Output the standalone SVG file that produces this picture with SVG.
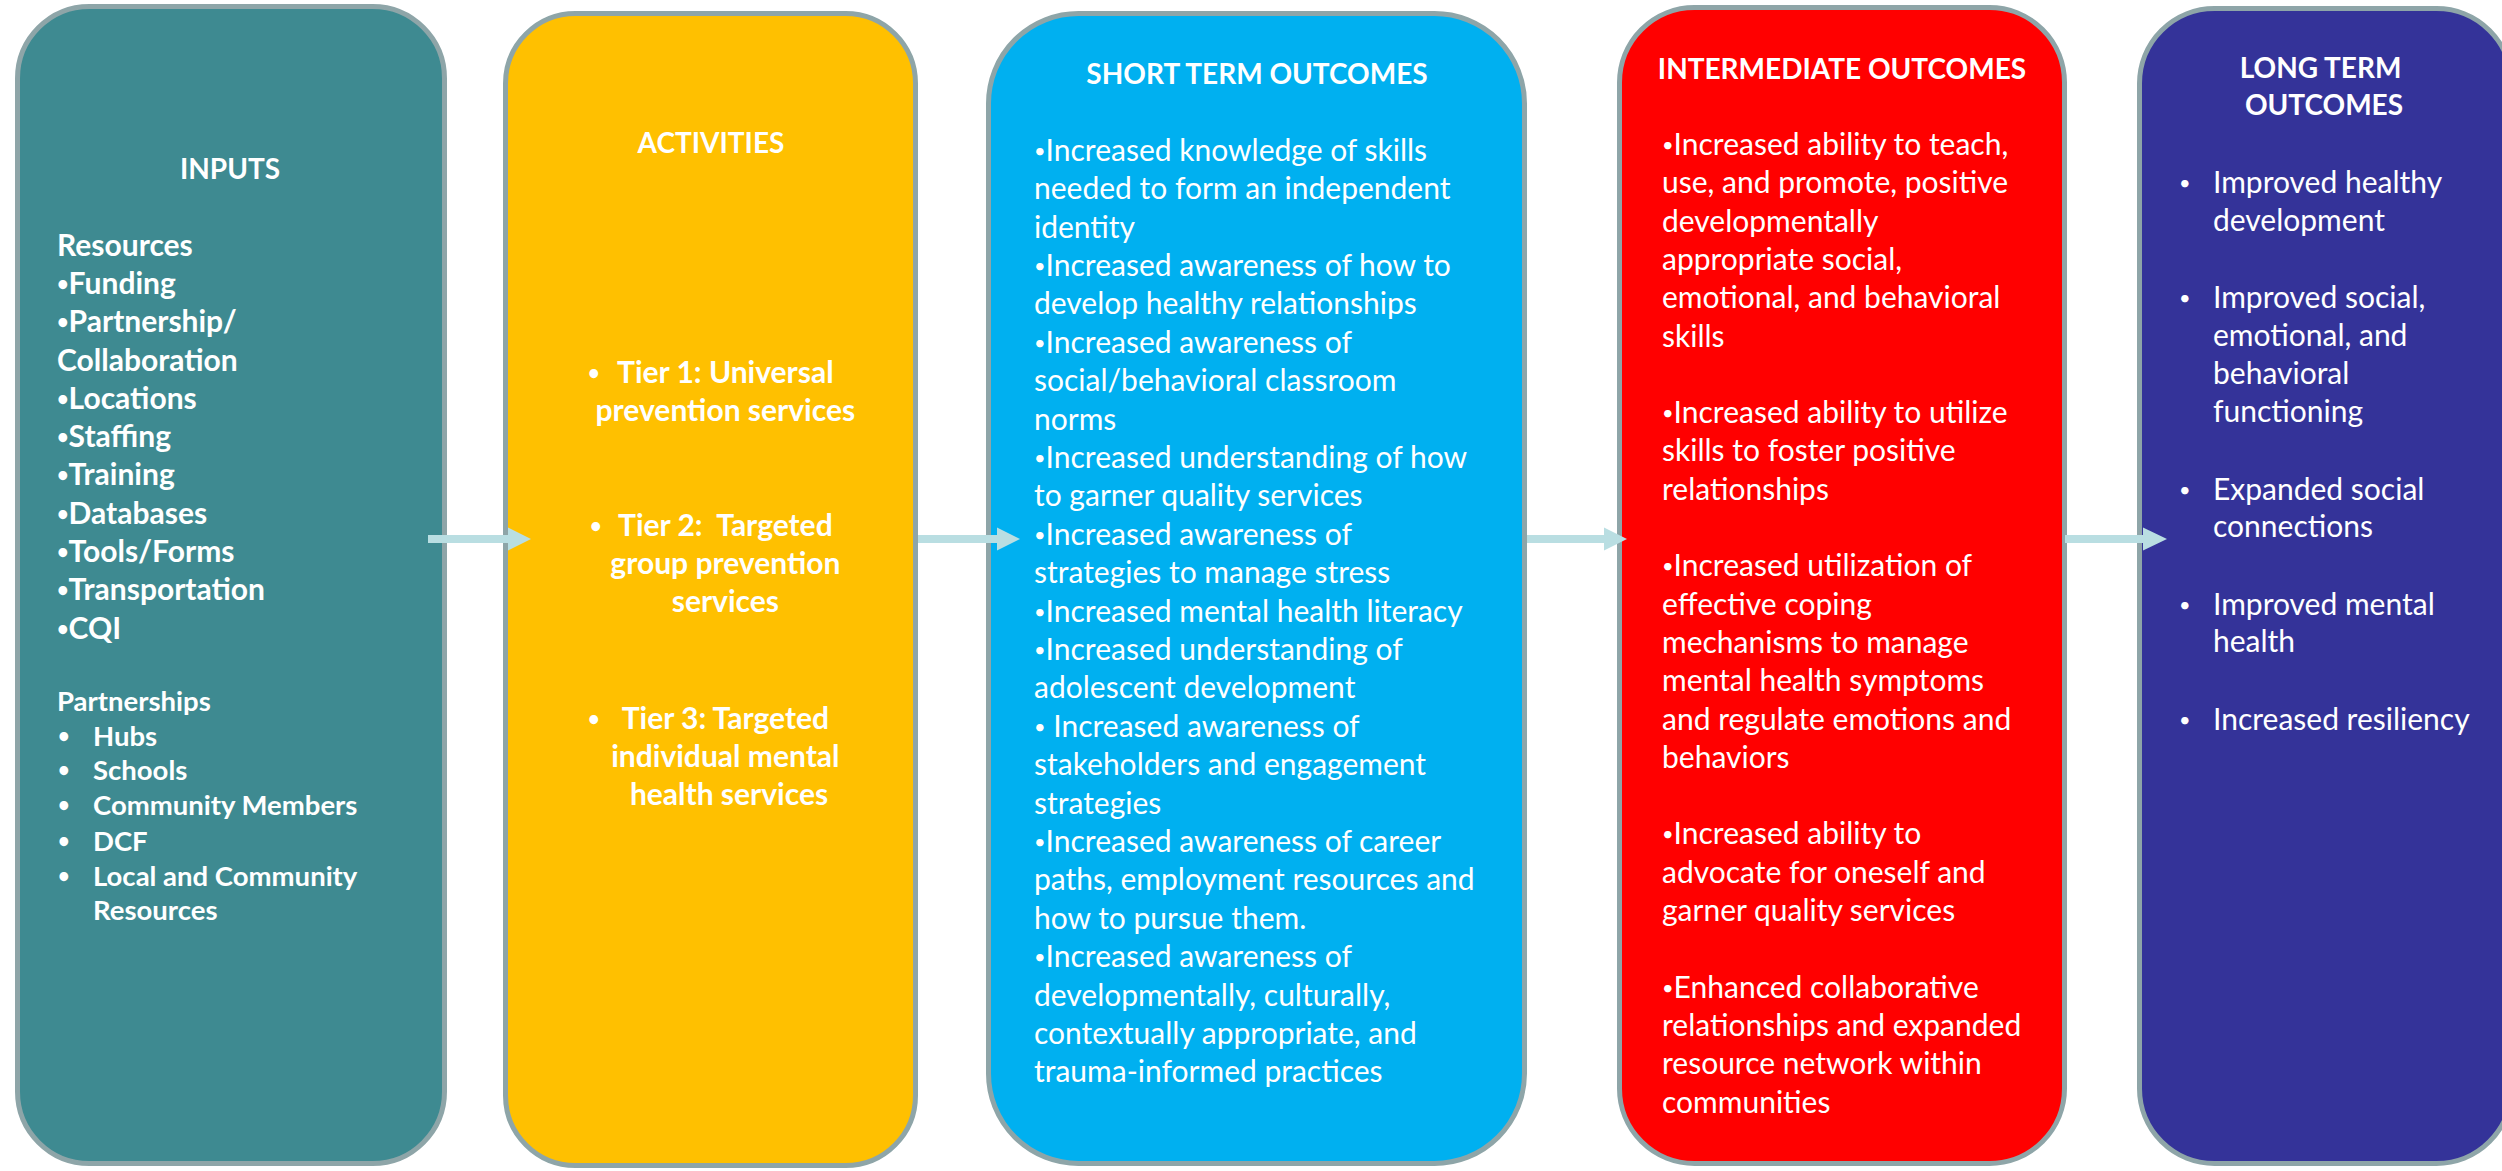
<svg xmlns="http://www.w3.org/2000/svg" width="2502" height="1171" viewBox="0 0 2502 1171">
  <style>
    .box { stroke: #8EA5A8; stroke-width: 5; }
    .t { font-family: Lato, "Open Sans", "Liberation Sans", sans-serif; fill: #FFFFFF; font-size: 30px; }
    .h { font-size: 28px; font-weight: 700; }
    .b { font-weight: 700; }
    .sm { font-size: 27.5px; }
    .mid { text-anchor: middle; }
    .dot { font-size: 20px; baseline-shift: 3px; }
    .arrow { fill: #B9DEE2; }
  </style>

  <rect width="2502" height="1171" fill="#FFFFFF"/>

  <!-- Inputs -->
  <g id="inputs">
    <rect class="box" x="17.5" y="6.5" width="427" height="1157" rx="72" ry="72" fill="#3E8A91"/>
    <text class="t h mid" x="230" y="179">INPUTS</text>
    <text class="t b">
      <tspan x="57" y="255.6">Resources</tspan>
      <tspan x="57" y="293.9"><tspan class="dot">•</tspan>Funding</tspan>
      <tspan x="57" y="332.2"><tspan class="dot">•</tspan>Partnership/</tspan>
      <tspan x="57" y="370.5">Collaboration</tspan>
      <tspan x="57" y="408.8"><tspan class="dot">•</tspan>Locations</tspan>
      <tspan x="57" y="447.1"><tspan class="dot">•</tspan>Staffing</tspan>
      <tspan x="57" y="485.4"><tspan class="dot">•</tspan>Training</tspan>
      <tspan x="57" y="523.7"><tspan class="dot">•</tspan>Databases</tspan>
      <tspan x="57" y="562"><tspan class="dot">•</tspan>Tools/Forms</tspan>
      <tspan x="57" y="600.3"><tspan class="dot">•</tspan>Transportation</tspan>
      <tspan x="57" y="638.6"><tspan class="dot">•</tspan>CQI</tspan>
    </text>
    <text class="t b sm" x="57" y="711">Partnerships</text>
    <text class="t b">
      <tspan class="dot" x="58" y="746">•</tspan>
      <tspan class="dot" x="58" y="780">•</tspan>
      <tspan class="dot" x="58" y="815">•</tspan>
      <tspan class="dot" x="58" y="851">•</tspan>
      <tspan class="dot" x="58" y="886">•</tspan>
    </text>
    <text class="t b sm">
      <tspan x="93" y="746">Hubs</tspan>
      <tspan x="93" y="780">Schools</tspan>
      <tspan x="93" y="815">Community Members</tspan>
      <tspan x="93" y="851">DCF</tspan>
      <tspan x="93" y="886">Local and Community</tspan>
      <tspan x="93" y="920">Resources</tspan>
    </text>
  </g>

  <!-- Activities -->
  <g id="activities">
    <rect class="box" x="505.5" y="13.5" width="410" height="1152" rx="70" ry="70" fill="#FFC000"/>
    <text class="t h mid" x="711" y="153">ACTIVITIES</text>
    <text class="t b">
      <tspan class="dot" x="588" y="383">•</tspan>
      <tspan class="dot" x="590" y="536">•</tspan>
      <tspan class="dot" x="588" y="729">•</tspan>
    </text>
    <text class="t b mid">
      <tspan x="729" y="383">Tier 1: Universal</tspan>
      <tspan x="729" y="421">prevention services</tspan>
      <tspan x="729" y="536">Tier 2:&#160; Targeted</tspan>
      <tspan x="729" y="574">group prevention</tspan>
      <tspan x="729" y="612">services</tspan>
      <tspan x="729" y="729">Tier 3: Targeted</tspan>
      <tspan x="729" y="767">individual mental</tspan>
      <tspan x="729" y="805">health services</tspan>
    </text>
  </g>

  <!-- Short term outcomes -->
  <g id="short-term">
    <rect class="box" x="988.5" y="13.5" width="536" height="1150" rx="90" ry="90" fill="#00B0F0"/>
    <text class="t h mid" x="1257" y="84">SHORT TERM OUTCOMES</text>
    <text class="t">
      <tspan x="1034" y="160.7"><tspan class="dot">•</tspan>Increased knowledge of skills</tspan>
      <tspan x="1034" y="199.1">needed to form an independent</tspan>
      <tspan x="1034" y="237.5">identity</tspan>
      <tspan x="1034" y="275.9"><tspan class="dot">•</tspan>Increased awareness of how to</tspan>
      <tspan x="1034" y="314.3">develop healthy relationships</tspan>
      <tspan x="1034" y="352.7"><tspan class="dot">•</tspan>Increased awareness of</tspan>
      <tspan x="1034" y="391.1">social/behavioral classroom</tspan>
      <tspan x="1034" y="429.5">norms</tspan>
      <tspan x="1034" y="467.9"><tspan class="dot">•</tspan>Increased understanding of how</tspan>
      <tspan x="1034" y="506.3">to garner quality services</tspan>
      <tspan x="1034" y="544.7"><tspan class="dot">•</tspan>Increased awareness of</tspan>
      <tspan x="1034" y="583.1">strategies to manage stress</tspan>
      <tspan x="1034" y="621.5"><tspan class="dot">•</tspan>Increased mental health literacy</tspan>
      <tspan x="1034" y="659.9"><tspan class="dot">•</tspan>Increased understanding of</tspan>
      <tspan x="1034" y="698.3">adolescent development</tspan>
      <tspan x="1034" y="736.7"><tspan class="dot">•</tspan>&#160;Increased awareness of</tspan>
      <tspan x="1034" y="775.1">stakeholders and engagement</tspan>
      <tspan x="1034" y="813.5">strategies</tspan>
      <tspan x="1034" y="851.9"><tspan class="dot">•</tspan>Increased awareness of career</tspan>
      <tspan x="1034" y="890.3">paths, employment resources and</tspan>
      <tspan x="1034" y="928.7">how to pursue them.</tspan>
      <tspan x="1034" y="967.1"><tspan class="dot">•</tspan>Increased awareness of</tspan>
      <tspan x="1034" y="1005.5">developmentally, culturally,</tspan>
      <tspan x="1034" y="1043.9">contextually appropriate, and</tspan>
      <tspan x="1034" y="1082.3">trauma-informed practices</tspan>
    </text>
  </g>

  <!-- Intermediate outcomes -->
  <g id="intermediate">
    <rect class="box" x="1619.5" y="7.5" width="445" height="1156" rx="75" ry="75" fill="#FF0000"/>
    <text class="t h mid" x="1842" y="78.5">INTERMEDIATE OUTCOMES</text>
    <text class="t">
      <tspan x="1662" y="155"><tspan class="dot">•</tspan>Increased ability to teach,</tspan>
      <tspan x="1662" y="193.3">use, and promote, positive</tspan>
      <tspan x="1662" y="231.6">developmentally</tspan>
      <tspan x="1662" y="269.9">appropriate social,</tspan>
      <tspan x="1662" y="308.2">emotional, and behavioral</tspan>
      <tspan x="1662" y="346.5">skills</tspan>
      <tspan x="1662" y="423.1"><tspan class="dot">•</tspan>Increased ability to utilize</tspan>
      <tspan x="1662" y="461.4">skills to foster positive</tspan>
      <tspan x="1662" y="499.7">relationships</tspan>
      <tspan x="1662" y="576.3"><tspan class="dot">•</tspan>Increased utilization of</tspan>
      <tspan x="1662" y="614.6">effective coping</tspan>
      <tspan x="1662" y="652.9">mechanisms to manage</tspan>
      <tspan x="1662" y="691.2">mental health symptoms</tspan>
      <tspan x="1662" y="729.5">and regulate emotions and</tspan>
      <tspan x="1662" y="767.8">behaviors</tspan>
      <tspan x="1662" y="844.4"><tspan class="dot">•</tspan>Increased ability to</tspan>
      <tspan x="1662" y="882.7">advocate for oneself and</tspan>
      <tspan x="1662" y="921">garner quality services</tspan>
      <tspan x="1662" y="997.6"><tspan class="dot">•</tspan>Enhanced collaborative</tspan>
      <tspan x="1662" y="1035.9">relationships and expanded</tspan>
      <tspan x="1662" y="1074.2">resource network within</tspan>
      <tspan x="1662" y="1112.5">communities</tspan>
    </text>
  </g>

  <!-- Long term outcomes -->
  <g id="long-term">
    <rect class="box" x="2139.5" y="8.5" width="372" height="1155" rx="75" ry="75" fill="#343399"/>
    <text class="t h mid">
      <tspan x="2324" y="77.6">LONG TERM</tspan>
      <tspan x="2324" y="115">OUTCOMES</tspan>
    </text>
    <text class="t">
      <tspan class="dot" x="2179" y="193">•</tspan>
      <tspan class="dot" x="2179" y="307.6">•</tspan>
      <tspan class="dot" x="2179" y="500">•</tspan>
      <tspan class="dot" x="2179" y="615">•</tspan>
      <tspan class="dot" x="2179" y="729.6">•</tspan>
    </text>
    <text class="t">
      <tspan x="2213" y="193">Improved healthy</tspan>
      <tspan x="2213" y="230.6">development</tspan>
      <tspan x="2213" y="307.6">Improved social,</tspan>
      <tspan x="2213" y="346">emotional, and</tspan>
      <tspan x="2213" y="383.7">behavioral</tspan>
      <tspan x="2213" y="422">functioning</tspan>
      <tspan x="2213" y="500">Expanded social</tspan>
      <tspan x="2213" y="537">connections</tspan>
      <tspan x="2213" y="615">Improved mental</tspan>
      <tspan x="2213" y="652">health</tspan>
      <tspan x="2213" y="729.6">Increased resiliency</tspan>
    </text>
  </g>

  <!-- Connectors: block arrows between stages -->
  <g id="connectors">
    <path class="arrow" d="M428,535 H508 V527.5 L531,539 L508,550.5 V543 H428 Z"/>
    <path class="arrow" d="M918,535 H997 V527.5 L1020,539 L997,550.5 V543 H918 Z"/>
    <path class="arrow" d="M1527,535 H1604 V527.5 L1627,539 L1604,550.5 V543 H1527 Z"/>
    <path class="arrow" d="M2065,535 H2143 V527.5 L2167,539 L2143,550.5 V543 H2065 Z"/>
  </g>
</svg>
